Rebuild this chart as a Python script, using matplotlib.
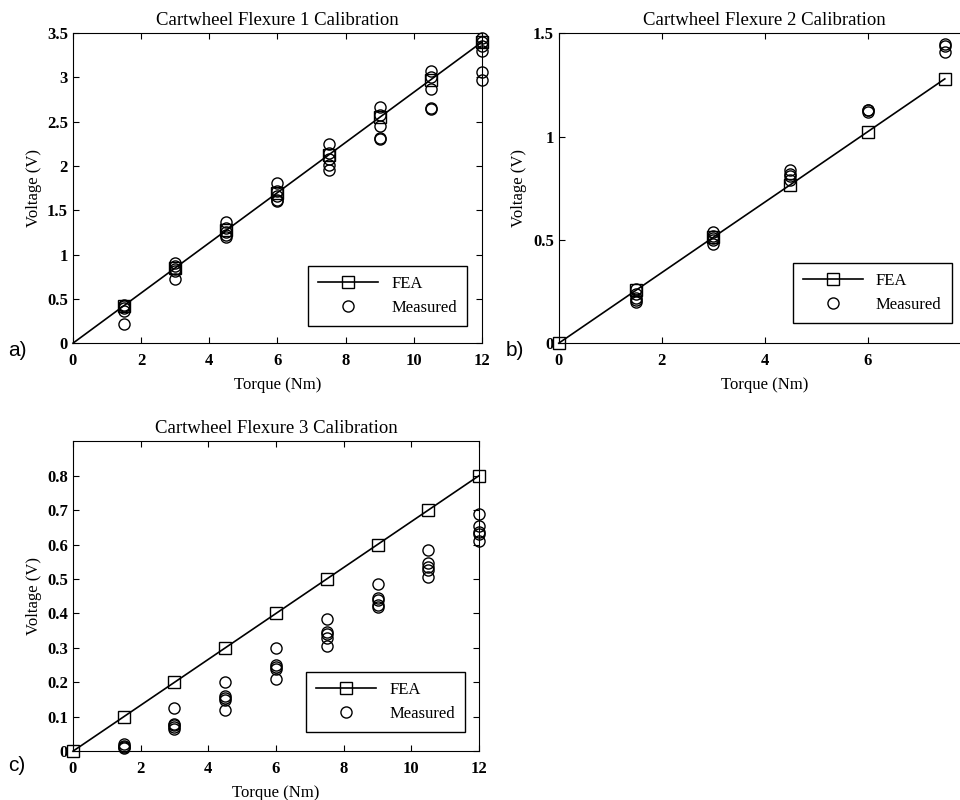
import matplotlib
matplotlib.use("Agg")
import matplotlib.pyplot as plt
from matplotlib.ticker import FormatStrFormatter

plt.rcParams["font.family"] = ["Liberation Serif", "DejaVu Serif"]

# FEA curves (torque in Nm, voltage in V)
fea1_x = [0, 1.5, 3, 4.5, 6, 7.5, 9, 10.5, 12]
fea1_y = [0, 0.425, 0.85, 1.275, 1.70, 2.125, 2.55, 2.975, 3.40]

fea2_x = [0, 1.5, 3, 4.5, 6, 7.5]
fea2_y = [0, 0.256, 0.512, 0.767, 1.023, 1.279]

fea3_x = [0, 1.5, 3, 4.5, 6, 7.5, 9, 10.5, 12]
fea3_y = [0, 0.1, 0.2, 0.3, 0.4, 0.5, 0.6, 0.7, 0.8]

# measured points
meas1_x = [1.5] * 5 + [3] * 5 + [4.5] * 5 + [6] * 5 + [7.5] * 5 + [9] * 5 + [10.5] * 5 + [12] * 6
meas1_y = [0.43, 0.42, 0.40, 0.36, 0.22,
           0.90, 0.87, 0.84, 0.81, 0.72,
           1.37, 1.30, 1.25, 1.22, 1.20,
           1.81, 1.72, 1.66, 1.62, 1.60,
           2.25, 2.15, 2.08, 2.01, 1.95,
           2.67, 2.58, 2.45, 2.32, 2.30,
           3.07, 3.00, 2.87, 2.66, 2.64,
           3.45, 3.40, 3.36, 3.30, 3.06, 2.97]

meas2_x = [1.5] * 5 + [3] * 5 + [4.5] * 4 + [6] * 3 + [7.5] * 3
meas2_y = [0.26, 0.24, 0.22, 0.21, 0.20,
           0.54, 0.52, 0.51, 0.50, 0.48,
           0.84, 0.82, 0.81, 0.79,
           1.13, 1.13, 1.12,
           1.45, 1.44, 1.41]

meas3_x = [1.5] * 4 + [3] * 5 + [4.5] * 5 + [6] * 5 + [7.5] * 5 + [9] * 5 + [10.5] * 5 + [12] * 5
meas3_y = [0.010, 0.015, 0.020, 0.012,
           0.125, 0.080, 0.075, 0.070, 0.065,
           0.200, 0.160, 0.155, 0.150, 0.120,
           0.300, 0.250, 0.245, 0.240, 0.210,
           0.385, 0.345, 0.340, 0.330, 0.305,
           0.485, 0.445, 0.440, 0.425, 0.420,
           0.585, 0.545, 0.535, 0.525, 0.505,
           0.690, 0.655, 0.635, 0.630, 0.610]

fig = plt.figure(figsize=(9.6, 8), dpi=100)


def panel(rect, fx, fy, mx, my, title, xlim, ylim, yticks, xticks, leg_anchor, fea_mark=None):
    ax = fig.add_axes(rect)
    ax.plot(fx, fy, "-", color="black", lw=1.2, marker="s", ms=8.5, mfc="none",
            mec="black", mew=1.0, markevery=fea_mark, label="FEA", clip_on=False, zorder=3)
    ax.plot(mx, my, "o", ms=8, mfc="none", mec="black", mew=1.0, ls="none",
            label="Measured", clip_on=False, zorder=3)
    ax.set_xlim(xlim)
    ax.set_ylim(ylim)
    ax.set_xticks(xticks)
    ax.set_yticks(yticks)
    ax.yaxis.set_major_formatter(FormatStrFormatter("%g"))
    ax.xaxis.set_major_formatter(FormatStrFormatter("%g"))
    ax.tick_params(direction="in", top=True, right=True, length=4, labelsize=12)
    ax.tick_params(axis="x", pad=7)
    for lab in ax.get_xticklabels() + ax.get_yticklabels():
        lab.set_fontweight("bold")
    ax.set_title(title, fontsize=13.5, pad=6)
    ax.set_xlabel("Torque (Nm)", fontsize=12, labelpad=6)
    ax.set_ylabel("Voltage (V)", fontsize=12)
    leg = ax.legend(loc="lower right", bbox_to_anchor=leg_anchor, borderaxespad=0,
                    fontsize=12, handlelength=3.6, fancybox=False, framealpha=1,
                    edgecolor="black", borderpad=0.6, labelspacing=0.5)
    leg.get_frame().set_linewidth(1.0)
    leg.set_zorder(5)
    return ax


panel([0.076, 0.571, 0.426, 0.3875], fea1_x, fea1_y, meas1_x, meas1_y,
      "Cartwheel Flexure 1 Calibration", (0, 12), (0, 3.5),
      [0, 0.5, 1, 1.5, 2, 2.5, 3, 3.5], [0, 2, 4, 6, 8, 10, 12],
      (0.963, 0.055), fea_mark=list(range(1, 9)))

panel([0.582, 0.571, 0.429, 0.3875], fea2_x, fea2_y, meas2_x, meas2_y,
      "Cartwheel Flexure 2 Calibration", (0, 8), (0, 1.5),
      [0, 0.5, 1, 1.5], [0, 2, 4, 6],
      (0.954, 0.065))

panel([0.076, 0.061, 0.423, 0.3875], fea3_x, fea3_y, meas3_x, meas3_y,
      "Cartwheel Flexure 3 Calibration", (0, 12), (0, 0.9),
      [0, 0.1, 0.2, 0.3, 0.4, 0.5, 0.6, 0.7, 0.8], [0, 2, 4, 6, 8, 10, 12],
      (0.966, 0.061))

for x, y, s in [(0.008, 0.555, "a)"), (0.527, 0.555, "b)"), (0.008, 0.036, "c)")]:
    fig.text(x, y, s, fontsize=15, family=["Liberation Sans", "DejaVu Sans"])

fig.savefig("out.png", dpi=100)
